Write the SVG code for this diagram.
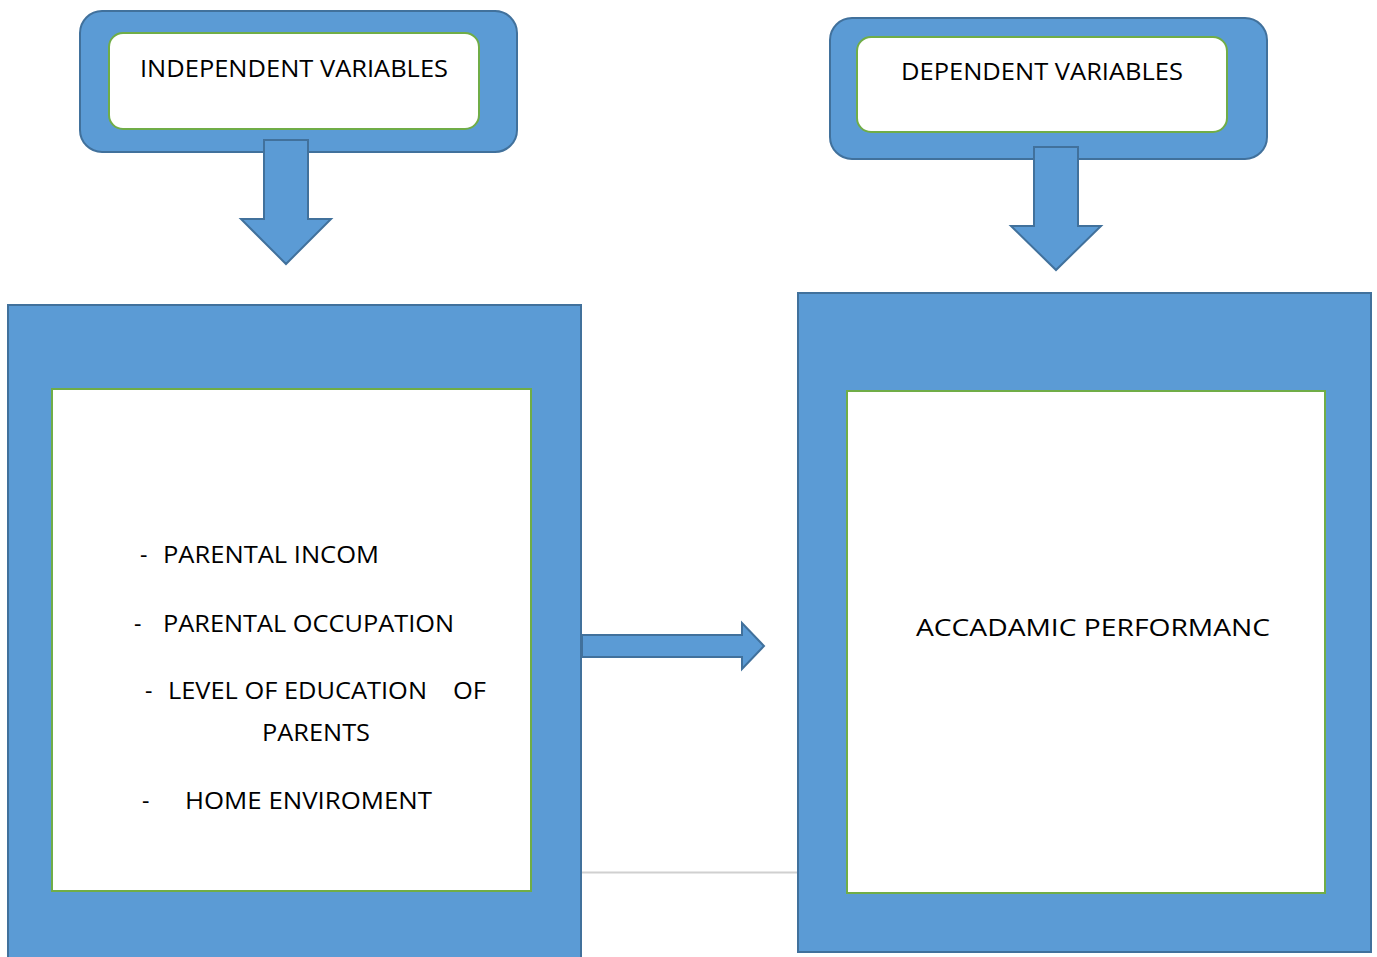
<svg xmlns="http://www.w3.org/2000/svg" width="1377" height="957" viewBox="0 0 1377 957">
<style>
.blue{fill:#5B9BD5;stroke:#41719C;stroke-width:2}
.inner{fill:#FFFFFF;stroke:#70AD47;stroke-width:2}
.t{font-family:"Open Sans","Liberation Sans",sans-serif;font-size:23px;fill:#000}
</style>
<rect width="1377" height="957" fill="#FFFFFF"/>
<g id="independent-header">
<rect class="blue" x="80" y="11" width="437" height="141" rx="22"/>
<rect class="inner" x="109" y="33" width="370" height="96" rx="14"/>
<text class="t" x="140" y="77" textLength="308" lengthAdjust="spacingAndGlyphs">INDEPENDENT VARIABLES</text>
</g>
<g id="dependent-header">
<rect class="blue" x="830" y="18" width="437" height="141" rx="22"/>
<rect class="inner" x="857" y="37" width="370" height="95" rx="14"/>
<text class="t" x="901" y="80" textLength="282" lengthAdjust="spacingAndGlyphs">DEPENDENT VARIABLES</text>
</g>
<g id="independent-box">
<rect class="blue" x="8" y="305" width="573" height="660"/>
<rect class="inner" x="52" y="389" width="479" height="502"/>
<text class="t" x="140" y="563">-</text>
<text class="t" x="163" y="563" textLength="216" lengthAdjust="spacingAndGlyphs">PARENTAL INCOM</text>
<text class="t" x="134" y="632">-</text>
<text class="t" x="163" y="632" textLength="291" lengthAdjust="spacingAndGlyphs">PARENTAL OCCUPATION</text>
<text class="t" x="145" y="699">-</text>
<text class="t" x="168" y="699" textLength="259" lengthAdjust="spacingAndGlyphs">LEVEL OF EDUCATION</text>
<text class="t" x="453" y="699" textLength="33" lengthAdjust="spacingAndGlyphs">OF</text>
<text class="t" x="262" y="741" textLength="108" lengthAdjust="spacingAndGlyphs">PARENTS</text>
<text class="t" x="142" y="809">-</text>
<text class="t" x="185" y="809" textLength="247" lengthAdjust="spacingAndGlyphs">HOME ENVIROMENT</text>
</g>
<g id="dependent-box">
<rect class="blue" x="798" y="293" width="573" height="659"/>
<rect class="inner" x="847" y="391" width="478" height="502"/>
<text class="t" x="916" y="636" textLength="354" lengthAdjust="spacingAndGlyphs">ACCADAMIC PERFORMANC</text>
</g>
<g id="connectors">
<line x1="582" y1="872.5" x2="797" y2="872.5" stroke="#D0D0D0" stroke-width="2"/>
<polygon class="blue" points="264,140 308,140 308,219 331,219 286,264 241,219 264,219"/>
<polygon class="blue" points="1034,147 1078,147 1078,226 1101,226 1056,270 1011,226 1034,226"/>
<polygon class="blue" points="582,635 742,635 742,623 764,646 742,669 742,657 582,657"/>
</g>
</svg>
